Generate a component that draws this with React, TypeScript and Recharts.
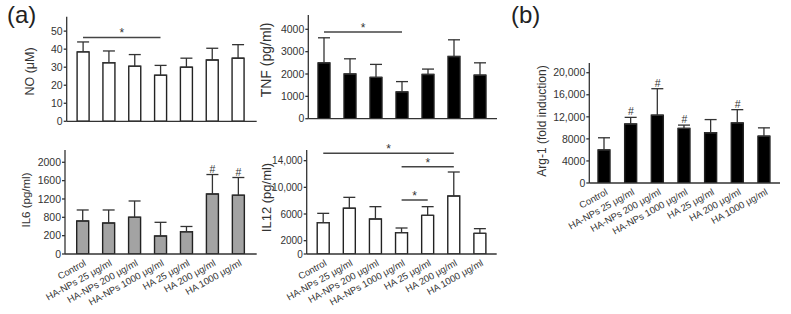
import React from 'react'
import { BarChart, Bar, XAxis, YAxis, ErrorBar, ReferenceLine, ReferenceDot } from 'recharts'

const groups = [
  'Control',
  'HA-NPs 25 μg/ml',
  'HA-NPs 200 μg/ml',
  'HA-NPs 1000 μg/ml',
  'HA 25 μg/ml',
  'HA 200 μg/ml',
  'HA 1000 μg/ml',
]

// means and top of the error bar
const noMean = [38.5, 32.5, 30.5, 25.5, 30, 34, 35]
const noUpper = [44, 39, 37, 31, 35, 40.5, 42.5]
const tnfMean = [2500, 2000, 1850, 1200, 1980, 2780, 1950]
const tnfUpper = [3620, 2680, 2430, 1660, 2220, 3530, 2500]
const il6Mean = [720, 676, 800, 393, 486, 1309, 1280]
const il6Upper = [960, 960, 1156, 691, 600, 1733, 1668]
const il12Mean = [4700, 6860, 5250, 3200, 5800, 8700, 3100]
const il12Upper = [6100, 8500, 7100, 3900, 7100, 12300, 3800]
const argMean = [6000, 10700, 12300, 9900, 9100, 10900, 8500]
const argUpper = [8200, 11900, 17100, 10500, 11500, 13300, 10000]

// tick values / labels
const noTicks = [0, 10, 20, 30, 40, 50]
const tnfTicks = [0, 1000, 2000, 3000, 4000]
const il6Ticks = [0, 400, 800, 1200, 1600, 2000]
const il6TickLabels = ['0', '200', '800', '1200', '1600', '2000']
const il12Ticks = [0, 2000, 6000, 10000, 14000]
const il12TickLabels = ['0', '2000', '6000', '10,000', '14,000']
const argTicks = [0, 4000, 8000, 12000, 16000, 20000]
const argTickLabels = ['0', '4000', '8000', '12,000', '16,000', '20,000']

// significance bars (* between groups) and # marks (index of group)
const noSig = [{ from: 0, to: 3, y: 46.5 }]
const tnfSig = [{ from: 0, to: 3, y: 3880 }]
const il12Sig = [
  { from: 0, to: 5, y: 15120 },
  { from: 3, to: 5, y: 13100 },
  { from: 3, to: 4, y: 8100 },
]
const il6Hash = [5, 6]
const argHash = [1, 2, 3, 5]

const FONT = "'Liberation Sans', Arial, sans-serif"
const INK = '#333'

type Sig = { from: number; to: number; y: number }

interface PanelProps {
  left: number
  top: number
  width: number
  height: number
  plot: [number, number, number, number] // x0, x1, y0, y1 in page coords
  pad: [number, number]
  domainMax: number
  ticks: number[]
  tickLabels?: string[]
  tickSize?: number
  mean: number[]
  upper: number[]
  fill: string
  yLabel: string
  labelPos: [number, number]
  labelSize: number
  showX?: boolean
  sig?: Sig[]
  hash?: number[]
}

const SlantTick = ({ x, y, payload }: any) => (
  <text
    x={0}
    y={0}
    textAnchor="end"
    fontSize={9.5}
    fill={INK}
    fontFamily={FONT}
    transform={`translate(${x + 4},${y + 11}) rotate(-29)`}
  >
    {payload.value}
  </text>
)

function Panel(p: PanelProps) {
  const yW = 40
  const xH = p.showX ? 55 : 1
  const [x0, x1, y0, y1] = p.plot
  const margin = {
    left: x0 - p.left - yW,
    right: p.left + p.width - x1,
    top: y0 - p.top,
    bottom: p.top + p.height - y1 - xH,
  }
  const data = groups.map((g, i) => ({ name: g, v: p.mean[i], e: [0, p.upper[i] - p.mean[i]] }))
  const lx = p.labelPos[0] - p.left
  const ly = p.labelPos[1] - p.top

  return (
    <div style={{ position: 'absolute', left: p.left, top: p.top }}>
      <BarChart width={p.width} height={p.height} data={data} margin={margin}>
        <XAxis
          dataKey="name"
          height={xH}
          padding={{ left: p.pad[0], right: p.pad[1] }}
          tickLine={false}
          tickSize={0}
          tickMargin={0}
          tick={p.showX ? <SlantTick /> : false}
          interval={0}
          stroke={INK}
          strokeWidth={1.3}
        />
        <YAxis
          width={yW}
          domain={[0, p.domainMax]}
          allowDataOverflow
          ticks={p.ticks}
          interval={0}
          tickSize={3}
          tickMargin={1}
          stroke={INK}
          strokeWidth={1.3}
          tick={{ fontSize: p.tickSize ?? 10.5, fill: INK, fontFamily: FONT }}
          tickFormatter={(v: number) => (p.tickLabels ? p.tickLabels[p.ticks.indexOf(v)] : String(v))}
          label={{
            content: () => (
              <text
                transform={`translate(${lx},${ly}) rotate(-90)`}
                textAnchor="middle"
                dominantBaseline="central"
                fontSize={p.labelSize}
                fill={INK}
                fontFamily={FONT}
              >
                {p.yLabel}
              </text>
            ),
          }}
        />
        <Bar dataKey="v" fill={p.fill} stroke="#222" strokeWidth={1.4} barSize={12} isAnimationActive={false}>
          <ErrorBar dataKey="e" width={6} stroke="#333" strokeWidth={1.3} direction="y" />
        </Bar>
        {(p.sig || []).map((s, i) => (
          <ReferenceLine
            key={'s' + i}
            segment={[
              { x: groups[s.from], y: s.y },
              { x: groups[s.to], y: s.y },
            ]}
            stroke="#444"
            strokeWidth={1.5}
            ifOverflow="visible"
            label={{ value: '*', position: 'top', offset: 0, fontSize: 12, fill: INK, fontFamily: FONT }}
          />
        ))}
        {(p.hash || []).map((i) => (
          <ReferenceDot
            key={'h' + i}
            x={groups[i]}
            y={p.upper[i]}
            r={0}
            fill="none"
            stroke="none"
            ifOverflow="visible"
            label={{ value: '#', position: 'top', offset: 2, fontSize: 10.5, fill: INK, fontFamily: FONT }}
          />
        ))}
      </BarChart>
    </div>
  )
}

export default function App() {
  return (
    <div
      style={{
        position: 'absolute',
        left: 0,
        top: 0,
        width: 791,
        height: 314,
        background: '#fff',
        fontFamily: FONT,
        overflow: 'hidden',
      }}
    >
      <div style={{ position: 'absolute', left: 7, top: 2, fontSize: 24, lineHeight: '26px', color: '#222' }}>(a)</div>
      <div style={{ position: 'absolute', left: 511, top: 2, fontSize: 24, lineHeight: '26px', color: '#222' }}>(b)</div>

      <Panel
        left={0} top={0} width={262} height={140}
        plot={[66.7, 256.7, 16.7, 121.3]} pad={[3.4, 5.8]}
        domainMax={58} ticks={noTicks}
        mean={noMean} upper={noUpper} fill="#fff"
        yLabel="NO (μM)" labelPos={[30, 71.5]} labelSize={12.5} sig={noSig}
      />
      <Panel
        left={0} top={140} width={262} height={174}
        plot={[65, 256.7, 150, 254]} pad={[4.7, 5.4]}
        domainMax={2268} ticks={il6Ticks} tickLabels={il6TickLabels}
        mean={il6Mean} upper={il6Upper} fill="#a3a3a3"
        yLabel="IL6 (pg/ml)" labelPos={[26, 200]} labelSize={11.5} showX hash={il6Hash}
      />
      <Panel
        left={250} top={0} width={260} height={140}
        plot={[308.3, 497, 15, 118.7]} pad={[2.7, 4]}
        domainMax={4640} ticks={tnfTicks}
        mean={tnfMean} upper={tnfUpper} fill="#000"
        yLabel="TNF (pg/ml)" labelPos={[266, 60]} labelSize={14} sig={tnfSig}
      />
      <Panel
        left={250} top={140} width={260} height={174}
        plot={[306.7, 496.7, 150, 254]} pad={[3.5, 3.7]}
        domainMax={15600} ticks={il12Ticks} tickLabels={il12TickLabels} tickSize={10}
        mean={il12Mean} upper={il12Upper} fill="#fff"
        yLabel="IL12 (pg/ml)" labelPos={[266, 197.5]} labelSize={13} showX sig={il12Sig}
      />
      <Panel
        left={510} top={30} width={281} height={240}
        plot={[589.3, 780, 63, 183]} pad={[1.7, 2.4]}
        domainMax={21760} ticks={argTicks} tickLabels={argTickLabels}
        mean={argMean} upper={argUpper} fill="#000"
        yLabel="Arg-1 (fold induction)" labelPos={[542, 121]} labelSize={12} showX hash={argHash}
      />
    </div>
  )
}
